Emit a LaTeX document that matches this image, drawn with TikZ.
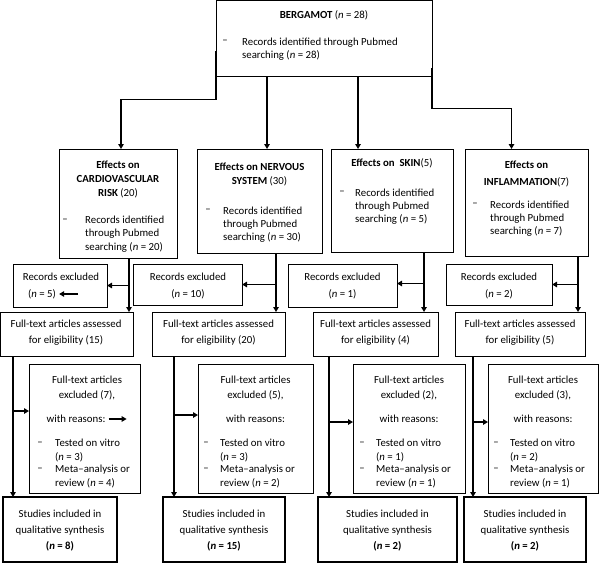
\documentclass[tikz,border=0pt]{standalone}
\usepackage{fontspec}
\setmainfont{Carlito}
\usetikzlibrary{arrows.meta,calc}
\begin{document}
\begin{tikzpicture}[x=1pt,y=-1pt,
  box/.style={draw,line width=0.9pt,anchor=north west,inner sep=0pt,outer sep=0pt},
  sbox/.style={box,line width=1.8pt},
  txt/.style={inner sep=0pt,align=center,font=\fontsize{10.8}{13.5}\selectfont},
  ltxt/.style={inner sep=0pt,align=left,anchor=west,font=\fontsize{10.8}{13.3}\selectfont},
  dsh/.style={inner sep=0pt,font=\fontsize{10.8}{13.3}\selectfont},
  conn/.style={line width=1.6pt,-{Triangle[length=5pt,width=5.5pt]}},
]
\useasboundingbox (0,0) rectangle (599,565);
% ---------- boxes ----------
\node[box,minimum width=216pt,minimum height=76pt] (top) at (216,0.5) {};
\node[box,minimum width=118pt,minimum height=109pt] (e1) at (59,149) {};
\node[box,minimum width=125pt,minimum height=104pt] (e2) at (197,149) {};
\node[box,minimum width=122pt,minimum height=103pt] (e3) at (331,149) {};
\node[box,minimum width=123pt,minimum height=107pt] (e4) at (465,149) {};
\node[box,minimum width=94pt,minimum height=43pt] (r1) at (13,264) {};
\node[box,minimum width=109pt,minimum height=41pt] (r2) at (133,264) {};
\node[box,minimum width=109pt,minimum height=43pt] (r3) at (288,264) {};
\node[box,minimum width=106pt,minimum height=41pt] (r4) at (446,264) {};
\node[box,minimum width=132.5pt,minimum height=44pt] (f1) at (0.5,312) {};
\node[box,minimum width=133pt,minimum height=44pt] (f2) at (152,312) {};
\node[box,minimum width=125pt,minimum height=44pt] (f3) at (313,312) {};
\node[box,minimum width=130pt,minimum height=44pt] (f4) at (455,312) {};
\node[box,minimum width=111pt,minimum height=129pt] (x1) at (29,364) {};
\node[box,minimum width=115pt,minimum height=129pt] (x2) at (198,364) {};
\node[box,minimum width=112pt,minimum height=129pt] (x3) at (353,364) {};
\node[box,minimum width=110pt,minimum height=129pt] (x4) at (488,364) {};
\node[sbox,minimum width=114pt,minimum height=65pt] (s1) at (3,497) {};
\node[sbox,minimum width=122pt,minimum height=65pt] (s2) at (163,497) {};
\node[sbox,minimum width=139pt,minimum height=65pt] (s3) at (318,497) {};
\node[sbox,minimum width=122pt,minimum height=65pt] (s4) at (464,497) {};
% ---------- texts ----------
\node[txt] (ttop) at (324,15) {\textbf{BERGAMOT} (\textit{n} = 28)};
\node[dsh] (dtop) at (225,42) {–};
\node[ltxt] (ltop) at (242,49.5) {Records identified through Pubmed\\searching (\textit{n} = 28)};

\node[txt,font=\fontsize{10.8}{14}\selectfont] (te1) at (118,179) {\textbf{Effects on}\\\textbf{CARDIOVASCULAR}\\\textbf{RISK} (20)};
\node[dsh] (de1) at (65,221) {–};
\node[ltxt] (le1) at (85,234) {Records identified\\through Pubmed\\searching (\textit{n} = 20)};

\node[txt,font=\fontsize{10.8}{14}\selectfont] (te2) at (259.5,174) {\textbf{Effects on NERVOUS}\\\textbf{SYSTEM} (30)};
\node[dsh] (de2) at (208,211) {–};
\node[ltxt] (le2) at (223,224.5) {Records identified\\through Pubmed\\searching (\textit{n} = 30)};

\node[txt] (te3) at (392,163) {\textbf{Effects on\ \ SKIN}(5)};
\node[dsh] (de3) at (342,193) {–};
\node[ltxt] (le3) at (355,206.5) {Records identified\\through Pubmed\\searching (\textit{n} = 5)};

\node[txt,font=\fontsize{10.8}{17}\selectfont] (te4) at (526.5,173.5) {\textbf{Effects on}\\\textbf{INFLAMMATION}(7)};
\node[dsh] (de4) at (475,205) {–};
\node[ltxt] (le4) at (490,218.5) {Records identified\\through Pubmed\\searching (\textit{n} = 7)};

\node[txt] (tr1) at (61,277) {Records excluded};
\node[txt] (nr1) at (42,294) {(\textit{n} = 5)};
\node[txt,font=\fontsize{10.8}{17}\selectfont] (tr2) at (188,285.5) {Records excluded\\(\textit{n} = 10)};
\node[txt,font=\fontsize{10.8}{17}\selectfont] (tr3) at (342.5,285.5) {Records excluded\\(\textit{n} = 1)};
\node[txt,font=\fontsize{10.8}{17}\selectfont] (tr4) at (499,285.5) {Records excluded\\(\textit{n} = 2)};

\node[txt,font=\fontsize{10.8}{16}\selectfont] (tf1) at (66,333) {Full-text articles assessed\\for eligibility (15)};
\node[txt,font=\fontsize{10.8}{16}\selectfont] (tf2) at (218.5,333) {Full-text articles assessed\\for eligibility (20)};
\node[txt,font=\fontsize{10.8}{16}\selectfont] (tf3) at (375.5,333) {Full-text articles assessed\\for eligibility (4)};
\node[txt,font=\fontsize{10.8}{16}\selectfont] (tf4) at (520,333) {Full-text articles assessed\\for eligibility (5)};

% excluded boxes
\node[txt,font=\fontsize{10.8}{15}\selectfont] (tx1) at (87,387.5) {Full-text articles\\excluded (7),};
\node[txt] (wx1) at (76,419) {with reasons:};
\node[dsh] (dx1a) at (40,444) {–};
\node[ltxt] (lx1a) at (55,450.5) {Tested on vitro\\(\textit{n} = 3)};
\node[dsh] (dx1b) at (40,470) {–};
\node[ltxt] (lx1b) at (55,476.5) {Meta–analysis or\\review (\textit{n} = 4)};

\node[txt,font=\fontsize{10.8}{15}\selectfont] (tx2) at (255.5,387.5) {Full-text articles\\excluded (5),};
\node[txt] (wx2) at (255.5,419) {with reasons:};
\node[dsh] (dx2a) at (206,444) {–};
\node[ltxt] (lx2a) at (220,450.5) {Tested on vitro\\(\textit{n} = 3)};
\node[dsh] (dx2b) at (206,470) {–};
\node[ltxt] (lx2b) at (220,476.5) {Meta–analysis or\\review (\textit{n} = 2)};

\node[txt,font=\fontsize{10.8}{15}\selectfont] (tx3) at (409,387.5) {Full-text articles\\excluded (2),};
\node[txt] (wx3) at (409,419) {with reasons:};
\node[dsh] (dx3a) at (362,444) {–};
\node[ltxt] (lx3a) at (376,450.5) {Tested on vitro\\(\textit{n} = 1)};
\node[dsh] (dx3b) at (362,470) {–};
\node[ltxt] (lx3b) at (376,476.5) {Meta–analysis or\\review (\textit{n} = 1)};

\node[txt,font=\fontsize{10.8}{15}\selectfont] (tx4) at (543,387.5) {Full-text articles\\excluded (3),};
\node[txt] (wx4) at (543,419) {with reasons:};
\node[dsh] (dx4a) at (496,444) {–};
\node[ltxt] (lx4a) at (510,450.5) {Tested on vitro\\(\textit{n} = 2)};
\node[dsh] (dx4b) at (496,470) {–};
\node[ltxt] (lx4b) at (510,476.5) {Meta–analysis or\\review (\textit{n} = 1)};

\node[txt,font=\fontsize{10.8}{16}\selectfont] (ts1) at (60,531) {Studies included in\\qualitative synthesis\\\textbf{(\textit{n} = 8)}};
\node[txt,font=\fontsize{10.8}{16}\selectfont] (ts2) at (224,531) {Studies included in\\qualitative synthesis\\\textbf{(\textit{n} = 15)}};
\node[txt,font=\fontsize{10.8}{16}\selectfont] (ts3) at (387.5,531) {Studies included in\\qualitative synthesis\\\textbf{(\textit{n} = 2)}};
\node[txt,font=\fontsize{10.8}{16}\selectfont] (ts4) at (525,531) {Studies included in\\qualitative synthesis\\\textbf{(\textit{n} = 2)}};

% ---------- junction coordinates ----------
\coordinate (c2) at (267,0);
\coordinate (c3) at (358,0);
\coordinate (a1) at (129,0);
\coordinate (a2) at (276,0);
\coordinate (a3) at (424,0);
\coordinate (a4) at (578,0);
\coordinate (b1) at (13,0);
\coordinate (b2) at (174,0);
\coordinate (b3) at (329,0);
\coordinate (b4) at (473,0);
\coordinate (h1) at (0,411);
\coordinate (h2) at (0,415);
\coordinate (h3) at (0,422);
\coordinate (h4) at (0,422);

% ---------- connectors ----------
\draw[conn] ([yshift=-12pt]top.west) -- ++(0,49) -| ([xshift=3pt]e1.north);
\draw[conn] (c2 |- top.south) -- (c2 |- e2.north);
\draw[conn] (c3 |- top.south) -- (c3 |- e3.north);
\draw[conn] ([yshift=-29pt]top.east) -- ++(0,41) -| ([xshift=-15pt]e4.north);

\draw[conn] (a1 |- e1.south) -- (a1 |- f1.north);
\draw[conn] (a2 |- e2.south) -- (a2 |- f2.north);
\draw[conn] (a3 |- e3.south) -- (a3 |- f3.north);
\draw[conn] (a4 |- e4.south) -- (a4 |- f4.north);
\draw[conn] (a1 |- r1.east) -- (r1.east);
\draw[conn] (a2 |- r2.east) -- (r2.east);
\draw[conn] ([yshift=2pt]a3 |- r3.east) -- ([yshift=2pt]r3.east);
\draw[conn] (a4 |- r4.east) -- (r4.east);

\draw[conn] (b1 |- f1.south) -- (b1 |- s1.north);
\draw[conn] (b2 |- f2.south) -- (b2 |- s2.north);
\draw[conn] (b3 |- f3.south) -- (b3 |- s3.north);
\draw[conn] (b4 |- f4.south) -- (b4 |- s4.north);
\draw[conn] (b1 |- h1) -- (x1.west |- h1);
\draw[conn] (b2 |- h2) -- (x2.west |- h2);
\draw[conn] (b3 |- h3) -- (x3.west |- h3);
\draw[conn] (b4 |- h4) -- (x4.west |- h4);

% stray arrows inside boxes
\draw[conn] ([xshift=22pt]nr1.east) -- ([xshift=3pt]nr1.east);
\draw[conn] ([xshift=3pt]wx1.east) -- ([xshift=21pt]wx1.east);
\end{tikzpicture}
\end{document}
